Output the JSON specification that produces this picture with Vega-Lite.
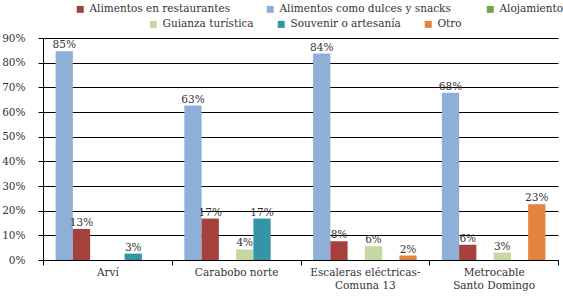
{
  "$schema": "https://vega.github.io/schema/vega-lite/v6.json",
  "width": 515,
  "height": 222,
  "autosize": "none",
  "padding": {"left": 43, "top": 38, "right": 5, "bottom": 37},
  "background": "white",
  "config": {
    "font": "DejaVu Serif",
    "view": {"stroke": null},
    "axis": {"domainColor": "black", "tickColor": "black", "gridColor": "black", "gridOpacity": 1, "labelColor": "#333333", "labelFontSize": 10.5, "labelFont": "DejaVu Serif", "title": null}
  },
  "data": {
    "values": [
      {"lugar": "Arví", "serie": "Alimentos como dulces y snacks", "valor": 0.846},
      {"lugar": "Arví", "serie": "Alimentos en restaurantes", "valor": 0.126},
      {"lugar": "Arví", "serie": "Souvenir o artesanía", "valor": 0.026},
      {"lugar": "Carabobo norte", "serie": "Alimentos como dulces y snacks", "valor": 0.626},
      {"lugar": "Carabobo norte", "serie": "Alimentos en restaurantes", "valor": 0.168},
      {"lugar": "Carabobo norte", "serie": "Guianza turística", "valor": 0.043},
      {"lugar": "Carabobo norte", "serie": "Souvenir o artesanía", "valor": 0.168},
      {"lugar": "Escaleras eléctricas-Comuna 13", "serie": "Alimentos como dulces y snacks", "valor": 0.837},
      {"lugar": "Escaleras eléctricas-Comuna 13", "serie": "Alimentos en restaurantes", "valor": 0.076},
      {"lugar": "Escaleras eléctricas-Comuna 13", "serie": "Guianza turística", "valor": 0.056},
      {"lugar": "Escaleras eléctricas-Comuna 13", "serie": "Otro", "valor": 0.018},
      {"lugar": "Metrocable Santo Domingo", "serie": "Alimentos como dulces y snacks", "valor": 0.678},
      {"lugar": "Metrocable Santo Domingo", "serie": "Alimentos en restaurantes", "valor": 0.062},
      {"lugar": "Metrocable Santo Domingo", "serie": "Guianza turística", "valor": 0.03},
      {"lugar": "Metrocable Santo Domingo", "serie": "Otro", "valor": 0.226}
    ]
  },
  "encoding": {
    "x": {
      "field": "lugar", "type": "nominal",
      "sort": ["Arví", "Carabobo norte", "Escaleras eléctricas-Comuna 13", "Metrocable Santo Domingo"],
      "scale": {"paddingInner": 0, "paddingOuter": 0},
      "axis": {
        "labelAngle": 0, "tickBand": "extent", "tickSize": 5, "labelPadding": 2, "labelLineHeight": 13.5, "labelBaseline": "top",
        "labelExpr": "datum.label == 'Escaleras eléctricas-Comuna 13' ? ['Escaleras eléctricas-', 'Comuna 13'] : datum.label == 'Metrocable Santo Domingo' ? ['Metrocable', 'Santo Domingo'] : datum.label"
      }
    },
    "xOffset": {
      "field": "serie", "type": "nominal",
      "scale": {"domain": ["Alimentos como dulces y snacks", "Alimentos en restaurantes", "Alojamiento", "Guianza turística", "Souvenir o artesanía", "Otro"], "paddingInner": 0, "paddingOuter": 0.73}
    },
    "y": {
      "field": "valor", "type": "quantitative",
      "scale": {"domain": [0, 0.9], "nice": false},
      "axis": {"values": [0, 0.1, 0.2, 0.3, 0.4, 0.5, 0.6, 0.7, 0.8, 0.9], "format": ".0%", "tickSize": 5, "labelPadding": 13, "grid": true}
    }
  },
  "layer": [
    {
      "transform": [{"filter": {"field": "serie", "oneOf": ["Alimentos en restaurantes", "Alimentos como dulces y snacks", "Alojamiento"]}}],
      "mark": {"type": "bar"},
      "encoding": {
        "color": {
          "field": "serie", "type": "nominal",
          "scale": {"domain": ["Alimentos en restaurantes", "Alimentos como dulces y snacks", "Alojamiento"], "range": ["#A6403C", "#8EB0D8", "#72A648"]},
          "legend": {"title": null, "orient": "none", "legendX": 32, "legendY": -34, "direction": "horizontal", "symbolType": "square", "symbolSize": 49, "symbolStrokeWidth": 0, "labelFontSize": 10.5, "labelLimit": 300, "labelColor": "#333333", "labelFont": "DejaVu Serif", "columnPadding": 34, "labelOffset": 4, "padding": 0}
        }
      }
    },
    {
      "transform": [{"filter": {"field": "serie", "oneOf": ["Guianza turística", "Souvenir o artesanía", "Otro"]}}],
      "mark": {"type": "bar"},
      "encoding": {
        "color": {
          "field": "serie", "type": "nominal",
          "scale": {"domain": ["Guianza turística", "Souvenir o artesanía", "Otro"], "range": ["#C4D89F", "#3494A8", "#E2843F"]},
          "legend": {"title": null, "orient": "none", "legendX": 105, "legendY": -19, "direction": "horizontal", "symbolType": "square", "symbolSize": 49, "symbolStrokeWidth": 0, "labelFontSize": 10.5, "labelLimit": 300, "labelColor": "#333333", "labelFont": "DejaVu Serif", "columnPadding": 22, "labelOffset": 4, "padding": 0}
        }
      }
    },
    {
      "mark": {"type": "text", "baseline": "bottom", "dy": -1, "fontSize": 10.5, "color": "#333333", "font": "DejaVu Serif"},
      "encoding": {"text": {"field": "valor", "type": "quantitative", "format": ".0%"}}
    }
  ],
  "resolve": {"scale": {"color": "independent"}}
}
